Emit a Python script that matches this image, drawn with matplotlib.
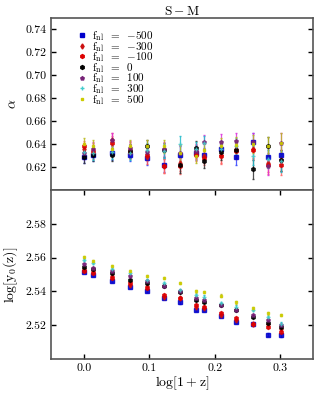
import numpy as np
import matplotlib
matplotlib.use("Agg")
import matplotlib.pyplot as plt
from matplotlib.lines import Line2D

plt.rcParams["font.family"] = "serif"
plt.rcParams["font.serif"] = ["cmr10", "DejaVu Serif"]
plt.rcParams["mathtext.fontset"] = "cm"
plt.rcParams["axes.formatter.use_mathtext"] = True
plt.rcParams["font.size"] = 8.5

# log(1+z) sample points
x = [0.0, 0.014, 0.043, 0.070, 0.096, 0.122, 0.147, 0.172, 0.184, 0.209, 0.233, 0.258, 0.282, 0.301]

fnl = [-500, -300, -100, 0, 100, 300, 500]

# alpha (top panel), one list per fnl
alpha_m500 = [0.629, 0.631, 0.632, 0.631, 0.628, 0.622, 0.631, 0.632, 0.631, 0.636, 0.629, 0.642, 0.629, 0.631]
alpha_m300 = [0.636, 0.635, 0.644, 0.636, 0.629, 0.621, 0.624, 0.633, 0.630, 0.631, 0.636, 0.636, 0.624, 0.626]
alpha_m100 = [0.638, 0.633, 0.641, 0.633, 0.631, 0.621, 0.621, 0.631, 0.628, 0.630, 0.634, 0.635, 0.622, 0.622]
alpha_0    = [0.629, 0.631, 0.631, 0.634, 0.638, 0.635, 0.622, 0.637, 0.625, 0.633, 0.635, 0.618, 0.638, 0.626]
alpha_100  = [0.632, 0.636, 0.644, 0.637, 0.633, 0.636, 0.632, 0.634, 0.642, 0.642, 0.643, 0.642, 0.621, 0.641]
alpha_300  = [0.633, 0.632, 0.633, 0.632, 0.635, 0.634, 0.640, 0.636, 0.641, 0.636, 0.638, 0.630, 0.627, 0.625]
alpha_500  = [0.640, 0.638, 0.636, 0.638, 0.638, 0.638, 0.632, 0.630, 0.635, 0.638, 0.639, 0.640, 0.638, 0.641]
alpha_err  = [0.005, 0.006, 0.006, 0.006, 0.006, 0.006, 0.007, 0.006, 0.006, 0.007, 0.007, 0.008, 0.008, 0.009]

# log y0(z) (bottom panel)
logy_m500 = [2.5518, 2.550, 2.546, 2.5425, 2.540, 2.536, 2.5335, 2.529, 2.529, 2.5255, 2.522, 2.5205, 2.5145, 2.514]
logy_m300 = [2.553, 2.552, 2.549, 2.544, 2.543, 2.537, 2.536, 2.531, 2.530, 2.526, 2.523, 2.521, 2.521, 2.518]
logy_m100 = [2.552, 2.551, 2.548, 2.545, 2.542, 2.538, 2.536, 2.532, 2.531, 2.527, 2.524, 2.5205, 2.519, 2.516]
logy_0    = [2.5547, 2.553, 2.551, 2.547, 2.545, 2.543, 2.5395, 2.535, 2.534, 2.532, 2.529, 2.525, 2.5215, 2.519]
logy_100  = [2.556, 2.554, 2.552, 2.549, 2.546, 2.543, 2.540, 2.536, 2.535, 2.532, 2.529, 2.526, 2.523, 2.520]
logy_300  = [2.5586, 2.557, 2.553, 2.551, 2.547, 2.545, 2.541, 2.538, 2.537, 2.533, 2.531, 2.529, 2.525, 2.521]
logy_500  = [2.5606, 2.558, 2.555, 2.552, 2.549, 2.548, 2.545, 2.540, 2.5395, 2.5375, 2.5335, 2.530, 2.527, 2.526]
logy_err  = [0.0006, 0.0006, 0.0006, 0.0006, 0.0006, 0.0006, 0.0007, 0.0007, 0.0007, 0.0007, 0.0007, 0.0007, 0.0007, 0.0007]

alphas = [alpha_m500, alpha_m300, alpha_m100, alpha_0, alpha_100, alpha_300, alpha_500]
logys = [logy_m500, logy_m300, logy_m100, logy_0, logy_100, logy_300, logy_500]

styles = [
    dict(marker="s", color="#0000cc", ecolor="#3344ff", ms=3.2),
    dict(marker="d", color="#cc1111", ecolor="#ff5555", ms=2.6),
    dict(marker="h", color="#dd0000", ecolor="#ff6666", ms=2.8),
    dict(marker="h", color="black", ecolor="#333333", ms=2.8),
    dict(marker="p", color="#772277", ecolor="#dd33dd", ms=2.6),
    dict(marker="+", color="#44cccc", ecolor="#22bbcc", ms=3),
    dict(marker="s", color="#cccc00", ecolor="#bbbb22", ms=1.8),
]

fig = plt.figure(figsize=(3.21, 3.96), dpi=100)
ax1 = fig.add_axes([0.159, 0.520, 0.816, 0.4345])
ax2 = fig.add_axes([0.159, 0.0934, 0.816, 0.4266])

handles = []
for f, a, ly, st in zip(fnl, alphas, logys, styles):
    lab = r"$\mathrm{f_{nl}}\;\;=\;\;{%d}$" % f
    ax1.errorbar(x, a, yerr=alpha_err, fmt=st["marker"], color=st["color"], ms=st["ms"],
                 ecolor=st["ecolor"], elinewidth=0.9, capsize=1.0, alpha=0.85)
    ax2.errorbar(x, ly, yerr=logy_err, fmt=st["marker"], color=st["color"], ms=st["ms"],
                 ecolor=st["ecolor"], elinewidth=0.9, capsize=0.8, alpha=0.85)
    handles.append(Line2D([], [], ls="none", marker=st["marker"], color=st["color"],
                          ms=st["ms"], label=lab))

for ax in (ax1, ax2):
    ax.set_xlim(-0.05, 0.35)
    for s in ax.spines.values():
        s.set_color("#555555")
        s.set_linewidth(1.2)
    ax.tick_params(direction="in", length=3.5, width=1, color="black", right=True)

ax1.set_ylim(0.60, 0.75)
ax1.set_yticks([0.62, 0.64, 0.66, 0.68, 0.70, 0.72, 0.74])
ax1.set_yticklabels(["0.62", "0.64", "0.66", "0.68", "0.70", "0.72", "0.74"])
ax1.set_xticks([])
ax1.set_ylabel(r"$\alpha$", fontsize=10)
ax1.set_title(r"$\mathrm{S-M}$", fontsize=9.5, pad=2)
ax1.legend(handles=handles, loc="upper left", frameon=False, fontsize=8, handlelength=0.8,
           handletextpad=0.5, labelspacing=-0.3, borderaxespad=0.6, borderpad=0.4,
           bbox_to_anchor=(0.06, 1.0))

ax2.set_ylim(2.50, 2.60)
ax2.set_yticks([2.52, 2.54, 2.56, 2.58])
ax2.set_yticklabels(["2.52", "2.54", "2.56", "2.58"])
ax2.set_xticks([0.0, 0.1, 0.2, 0.3])
ax2.set_xticklabels(["0.0", "0.1", "0.2", "0.3"])
ax2.tick_params(top=True)
ax2.set_ylabel(r"$\log[\mathrm{y_0(z)}]$", fontsize=10)
ax2.set_xlabel(r"$\log[1+\mathrm{z}]$", fontsize=10, labelpad=1)

fig.savefig("out.png", dpi=100)
